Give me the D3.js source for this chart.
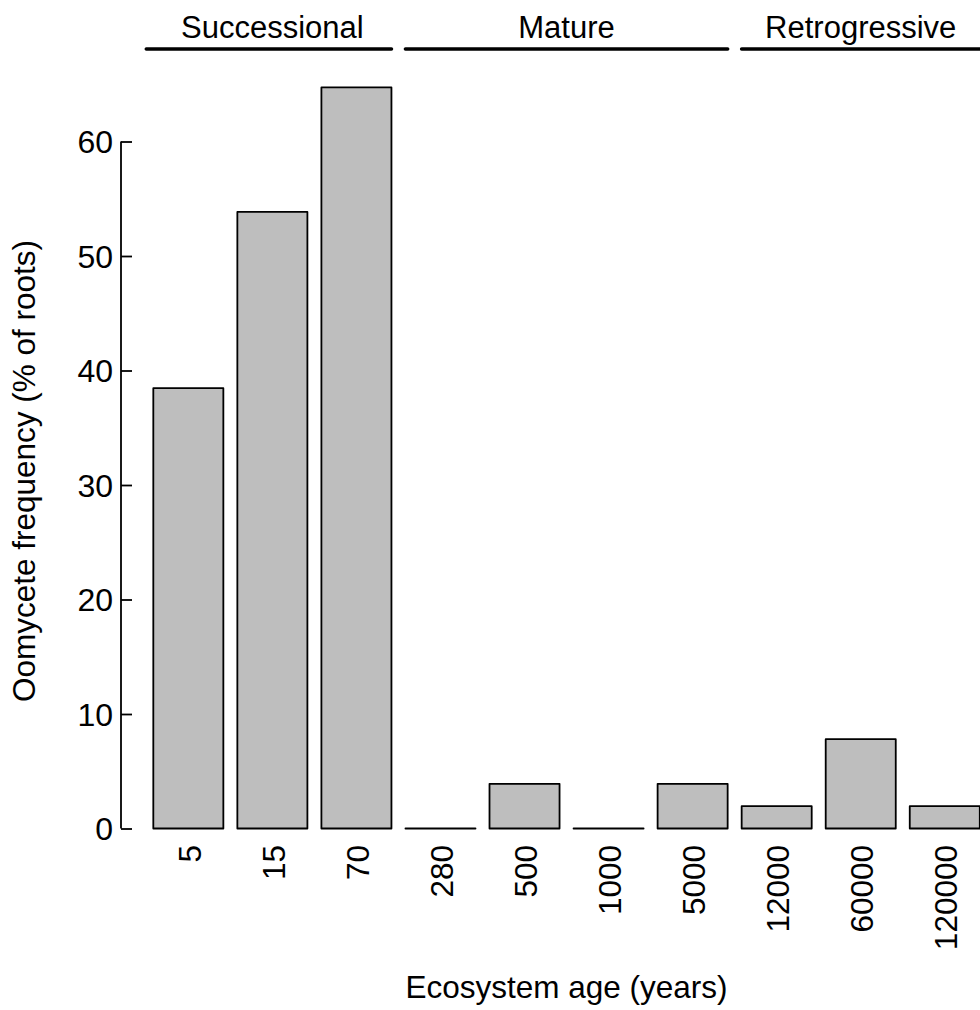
<!DOCTYPE html>
<html>
<head>
<meta charset="utf-8">
<script src="https://cdn.jsdelivr.net/npm/d3@7"></script>
<style>
  html, body { margin: 0; padding: 0; background: #fff; }
  svg { display: block; }
  text { font-family: "Liberation Sans", Arial, Helvetica, sans-serif; fill: #000; }
</style>
</head>
<body>
<svg id="chart" width="980" height="1010"></svg>
<script>
// ---- data ----
const categories = ["5", "15", "70", "280", "500", "1000", "5000", "12000", "60000", "120000"];
const values = [38.46, 53.85, 64.72, 0, 3.9, 0, 3.9, 1.95, 7.8, 1.95];
const yTicks = [0, 10, 20, 30, 40, 50, 60];
const groupNames = ["Successional", "Mature", "Retrogressive"];
const groupStart = [0.1, 3.8, 8.6];   // in barplot units
const groupEnd = [3.6, 8.4, 13.0];
const groupLabelCenterBars = [[0, 2], [3, 6], [7, 9]];
const xTitle = "Ecosystem age (years)";
const yTitle = "Oomycete frequency (% of roots)";

// ---- layout ----
const svg = d3.select("#chart");
const barWidthUnits = 1, spaceUnits = 0.2;
const x = d3.scaleLinear().domain([0, 12]).range([139.3, 979.8]);
const y = d3.scaleLinear().domain([0, 60]).range([828.5, 141.5]);
const barLeft = i => spaceUnits + i * (barWidthUnits + spaceUnits);
const barCenter = i => barLeft(i) + barWidthUnits / 2;

const fs = 31.5;

// bars (paths so zero-height bars still show their outline)
svg.append("g").selectAll("path").data(values).join("path")
  .attr("d", (d, i) => {
    const p = d3.path();
    const x0 = x(barLeft(i)), x1 = x(barLeft(i) + barWidthUnits);
    p.moveTo(x0, y(0)); p.lineTo(x0, y(d)); p.lineTo(x1, y(d)); p.lineTo(x1, y(0)); p.closePath();
    return p.toString();
  })
  .attr("fill", "#BEBEBE")
  .attr("stroke", "#000")
  .attr("stroke-width", 1.8)
  .attr("stroke-linejoin", "round");

// y axis (ticks inward)
const yAxis = d3.axisRight(y).tickValues(yTicks).tickSize(11).tickFormat("");
const ga = svg.append("g").attr("transform", `translate(${x(0) - 18.3},0)`).call(yAxis);
ga.select(".domain").attr("d", `M0,${y(0)}V${y(60)}`).attr("stroke-width", 1.8).attr("fill", "none");
ga.selectAll(".tick line").attr("stroke-width", 1.8);

// y tick labels
svg.append("g").selectAll("text").data(yTicks).join("text")
  .attr("x", x(0) - 26.3)
  .attr("y", d => y(d))
  .attr("dy", "0.36em")
  .attr("text-anchor", "end")
  .attr("font-size", fs + 0.5)
  .text(d => d);

// x category labels (rotated)
svg.append("g").selectAll("text").data(categories).join("text")
  .attr("transform", (d, i) => `translate(${x(barCenter(i)) + 1},845) rotate(-90)`)
  .attr("text-anchor", "end")
  .attr("dy", "0.36em")
  .attr("font-size", fs)
  .text(d => d);

// group lines and labels
const groupY = 49;
svg.append("g").selectAll("line").data(groupNames).join("line")
  .attr("x1", (d, i) => x(groupStart[i]))
  .attr("x2", (d, i) => x(groupEnd[i]))
  .attr("y1", groupY).attr("y2", groupY)
  .attr("stroke", "#000")
  .attr("stroke-width", 3.6)
  .attr("stroke-linecap", "round");

svg.append("g").selectAll("text").data(groupNames).join("text")
  .attr("x", (d, i) => (x(barLeft(groupLabelCenterBars[i][0])) + x(barLeft(groupLabelCenterBars[i][1]) + 1)) / 2)
  .attr("y", 37.5)
  .attr("text-anchor", "middle")
  .attr("font-size", fs - 0.5)
  .text(d => d);

// axis titles
svg.append("text")
  .attr("x", (x(barLeft(0)) + x(barLeft(9) + 1)) / 2)
  .attr("y", 998)
  .attr("text-anchor", "middle")
  .attr("font-size", fs)
  .text(xTitle);

svg.append("text")
  .attr("transform", `translate(35,471) rotate(-90)`)
  .attr("text-anchor", "middle")
  .attr("font-size", fs)
  .text(yTitle);
</script>
</body>
</html>
